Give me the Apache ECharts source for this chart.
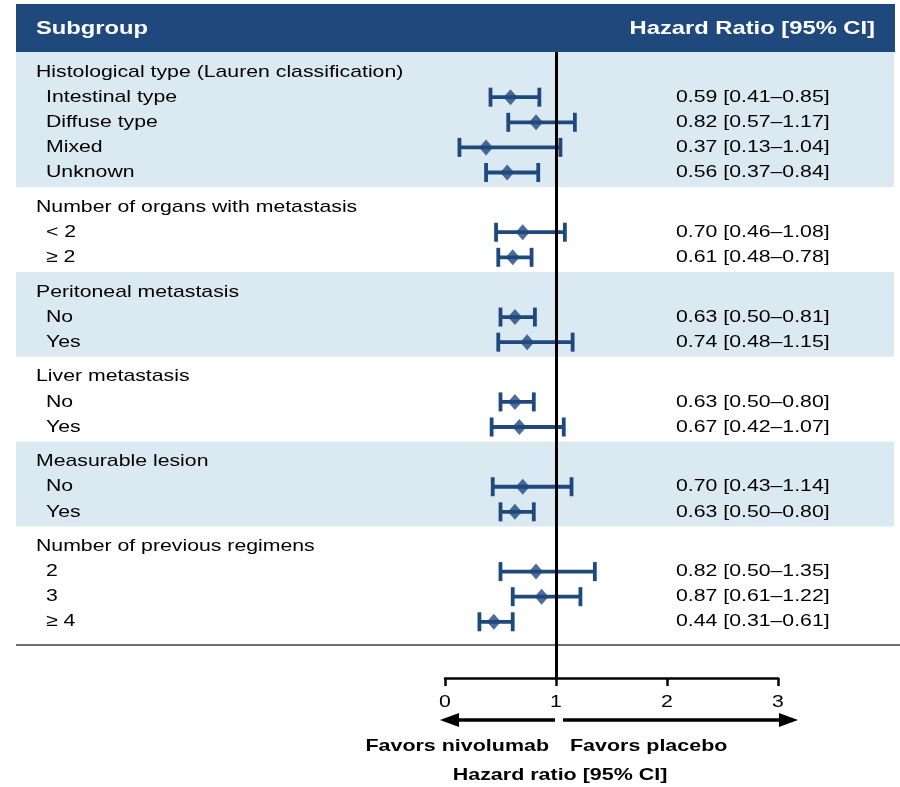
<!DOCTYPE html>
<html>
<head>
<meta charset="utf-8">
<script src="https://cdn.jsdelivr.net/npm/echarts@6/dist/echarts.min.js"></script>
<style>
  html, body { margin: 0; padding: 0; background: #fff; }
  #chart { width: 900px; height: 787px; }
</style>
</head>
<body>
<div id="chart"></div>
<script>
// Subgroup forest plot: hazard ratio with 95% CI per subgroup
const groups = [
  'Histological type (Lauren classification)',
  'Number of organs with metastasis',
  'Peritoneal metastasis',
  'Liver metastasis',
  'Measurable lesion',
  'Number of previous regimens'
];
const subgroups = ['Intestinal type', 'Diffuse type', 'Mixed', 'Unknown', '< 2', '≥ 2', 'No', 'Yes', 'No', 'Yes', 'No', 'Yes', '2', '3', '≥ 4'];
const subgroupGroup = [0, 0, 0, 0, 1, 1, 2, 2, 3, 3, 4, 4, 5, 5, 5];
const hazardRatio = [0.59, 0.82, 0.37, 0.56, 0.70, 0.61, 0.63, 0.74, 0.63, 0.67, 0.70, 0.63, 0.82, 0.87, 0.44];
const ciLower = [0.41, 0.57, 0.13, 0.37, 0.46, 0.48, 0.50, 0.48, 0.50, 0.42, 0.43, 0.50, 0.50, 0.61, 0.31];
const ciUpper = [0.85, 1.17, 1.04, 0.84, 1.08, 0.78, 0.81, 1.15, 0.80, 1.07, 1.14, 0.80, 1.35, 1.22, 0.61];
const xTicks = [0, 1, 2, 3];

// Row layout in row units (top to bottom)
const HEADER_OFFSET = 0.8, GROUP_PAD = 0.38;
const groupStart = [], groupEnd = [], groupHeaderY = [], rowY = [];
let cursor = 0;
groups.forEach((g, gi) => {
  const members = subgroups.map((s, i) => i).filter(i => subgroupGroup[i] === gi);
  groupStart.push(cursor);
  groupHeaderY.push(cursor + HEADER_OFFSET);
  members.forEach((idx, k) => { rowY[idx] = cursor + HEADER_OFFSET + 1 + k; });
  cursor += members.length + 1 + GROUP_PAD;
  groupEnd.push(cursor);
});
const separatorY = cursor + 0.35;
const yMax = separatorY + 1.31;

const NAVY = '#1f497d';
const BAND = '#dbeaf2';
const FONT = '"Liberation Sans", Arial, sans-serif';
const WIDE = 1.25;          // horizontal stretch applied to all text
const fmt = v => v.toFixed(2);

function label(x, y, text, font, align, sx) {
  return {
    type: 'text', x: x, y: y, scaleX: sx || WIDE,
    style: { text: text, fill: '#000', font: font, textAlign: align || 'left', textVerticalAlign: 'middle' }
  };
}

const chart = echarts.init(document.getElementById('chart'));

const headerLeft = label(36, 29, 'Subgroup', 'bold 19px ' + FONT);
headerLeft.style.fill = '#fff';
const headerRight = label(875, 29, 'Hazard Ratio [95% CI]', 'bold 19px ' + FONT, 'right');
headerRight.style.fill = '#fff';

const option = {
  animation: false,
  backgroundColor: '#fff',
  grid: { left: 445, right: 122, top: 52, bottom: 109 },
  xAxis: {
    type: 'value', min: 0, max: 3, interval: 1,
    axisLine: { show: true, onZero: false, lineStyle: { color: '#000', width: 2.5 } },
    axisTick: { show: true, inside: false, length: 8, lineStyle: { color: '#000', width: 2.5 } },
    axisLabel: { show: false },
    splitLine: { show: false }
  },
  yAxis: {
    type: 'value', min: 0, max: yMax, inverse: true, show: false
  },
  graphic: [
    { type: 'rect', shape: { x: 16, y: 4, width: 879, height: 48 }, style: { fill: NAVY }, z: 0 },
    headerLeft,
    headerRight,
    // direction arrows
    { type: 'line', shape: { x1: 555, y1: 720, x2: 455, y2: 720 }, style: { stroke: '#000', lineWidth: 3.5 } },
    { type: 'polygon', shape: { points: [[440, 720], [459, 713], [459, 727]] }, style: { fill: '#000' } },
    { type: 'line', shape: { x1: 563, y1: 720, x2: 783, y2: 720 }, style: { stroke: '#000', lineWidth: 3.5 } },
    { type: 'polygon', shape: { points: [[798, 720], [779, 713], [779, 727]] }, style: { fill: '#000' } },
    label(549, 746, 'Favors nivolumab', 'bold 16.5px ' + FONT, 'right', 1.3),
    label(570, 746, 'Favors placebo', 'bold 16.5px ' + FONT, 'left', 1.3),
    label(560, 775, 'Hazard ratio [95% CI]', 'bold 16.5px ' + FONT, 'center', 1.3)
  ],
  series: [
    {
      // shaded bands behind alternate groups
      type: 'custom', z: 0, silent: true,
      data: groups.map((g, gi) => [gi, groupStart[gi], groupEnd[gi]]).filter(d => d[0] % 2 === 0),
      renderItem: (params, api) => {
        const y0 = api.coord([0, api.value(1)])[1];
        const y1 = api.coord([0, api.value(2)])[1];
        return { type: 'rect', shape: { x: 16, y: y0, width: 878, height: y1 - y0 }, style: { fill: BAND } };
      }
    },
    {
      // group and subgroup labels plus HR text
      type: 'custom', z: 3, silent: true,
      data: groups.map((g, gi) => [gi, groupHeaderY[gi], 0]).concat(subgroups.map((s, i) => [i, rowY[i], 1])),
      renderItem: (params, api) => {
        const idx = api.value(0), kind = api.value(2);
        const y = api.coord([0, api.value(1)])[1];
        if (kind === 0) {
          return label(36, y, groups[idx], '17px ' + FONT);
        }
        return {
          type: 'group', children: [
            label(46, y, subgroups[idx], '17px ' + FONT),
            label(676, y, fmt(hazardRatio[idx]) + ' [' + fmt(ciLower[idx]) + '–' + fmt(ciUpper[idx]) + ']', '17px ' + FONT)
          ]
        };
      }
    },
    {
      // confidence interval whiskers
      type: 'custom', z: 4, silent: true,
      data: subgroups.map((s, i) => [ciLower[i], ciUpper[i], rowY[i]]),
      renderItem: (params, api) => {
        const a = api.coord([api.value(0), api.value(2)]);
        const b = api.coord([api.value(1), api.value(2)]);
        const h = 9.5;
        const st = { stroke: NAVY, lineWidth: 3.8 };
        return {
          type: 'group', children: [
            { type: 'line', shape: { x1: a[0], y1: a[1], x2: b[0], y2: b[1] }, style: st },
            { type: 'line', shape: { x1: a[0], y1: a[1] - h, x2: a[0], y2: a[1] + h }, style: st },
            { type: 'line', shape: { x1: b[0], y1: b[1] - h, x2: b[0], y2: b[1] + h }, style: st }
          ]
        };
      }
    },
    {
      // point estimates
      type: 'scatter', z: 5, silent: true,
      symbol: 'diamond', symbolSize: [14, 16],
      itemStyle: { color: NAVY },
      data: subgroups.map((s, i) => [hazardRatio[i], rowY[i]]),
      markLine: {
        silent: true, symbol: 'none', animation: false,
        label: { show: false },
        lineStyle: { color: '#000', width: 3, type: 'solid' },
        data: [{ xAxis: 1 }]
      }
    },
    {
      // separator under the table
      type: 'custom', z: 2, silent: true,
      data: [[0, separatorY]],
      renderItem: (params, api) => {
        const y = api.coord([0, api.value(1)])[1];
        return { type: 'line', shape: { x1: 16, y1: y, x2: 900, y2: y }, style: { stroke: '#6e6e6e', lineWidth: 2 } };
      }
    },
    {
      // x-axis tick labels
      type: 'custom', z: 3, silent: true,
      data: xTicks.map(v => [v]),
      renderItem: (params, api) => {
        const p = api.coord([api.value(0), yMax]);
        return label(p[0], p[1] + 24, String(api.value(0)), '17px ' + FONT, 'center');
      }
    }
  ]
};

chart.setOption(option);
</script>
</body>
</html>
